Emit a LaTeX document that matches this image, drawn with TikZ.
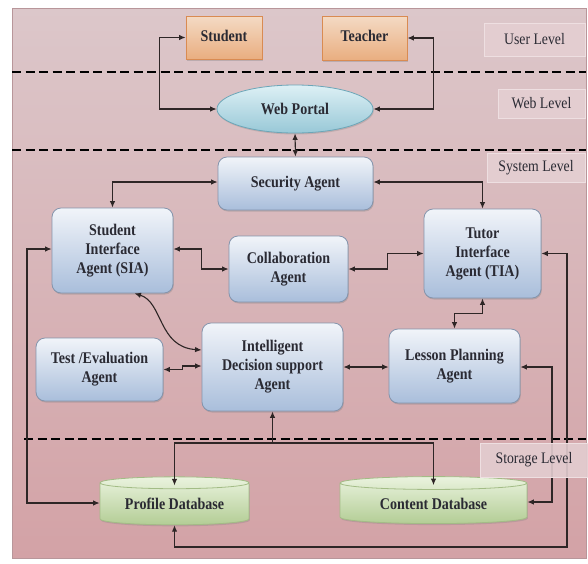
\documentclass[tikz,border=0pt]{standalone}
\usepackage{fontspec}
\setmainfont{Liberation Serif}[FakeStretch=0.86]
\usetikzlibrary{arrows.meta,shapes.geometric,shadows,calc}
\definecolor{paneltop}{HTML}{DCC7CA}
\definecolor{panelbot}{HTML}{D3A2A6}
\definecolor{panelborder}{HTML}{B8969A}
\definecolor{agenttop}{HTML}{F1F4F9}
\definecolor{agentbot}{HTML}{A9BEDB}
\definecolor{agentborder}{HTML}{8494AC}
\definecolor{usertop}{HTML}{F4DAC4}
\definecolor{userbot}{HTML}{E9AE80}
\definecolor{userborder}{HTML}{D98B52}
\definecolor{portaltop}{HTML}{DDF0F5}
\definecolor{portalbot}{HTML}{98C8D7}
\definecolor{portalborder}{HTML}{6CA6B8}
\definecolor{dbtop}{HTML}{EAF3DE}
\definecolor{dbbot}{HTML}{B3CD95}
\definecolor{dbborder}{HTML}{A3BC86}
\definecolor{lvlfill}{HTML}{E3CDD0}
\definecolor{lvlborder}{HTML}{EEDFE1}
\definecolor{arcol}{HTML}{2E2626}
\definecolor{txtcol}{HTML}{2A2A33}
\newcommand{\nodefont}{\bfseries\fontsize{16.3}{19}\selectfont\color{txtcol}}
\newcommand{\lvlfont}{\fontsize{16}{18}\selectfont\color{txtcol}}
\begin{document}
\begin{tikzpicture}[x=1pt,y=-1pt,
  >={Latex[length=6.5pt,width=5.5pt]},
  agent/.style={draw=agentborder, line width=0.8pt, rounded corners=9pt,
    top color=agenttop, bottom color=agentbot, align=center, font=\nodefont,
    inner sep=2pt, drop shadow={shadow xshift=0.8pt, shadow yshift=-1.5pt, opacity=0.35}},
  user/.style={draw=userborder, line width=0.8pt, top color=usertop, bottom color=userbot,
    align=center, font=\nodefont, inner sep=2pt,
    drop shadow={shadow xshift=0.8pt, shadow yshift=-1.5pt, opacity=0.35}},
  portal/.style={ellipse, draw=portalborder, line width=0.8pt, top color=portaltop,
    bottom color=portalbot, font=\nodefont, inner sep=0pt,
    drop shadow={shadow xshift=0.8pt, shadow yshift=-1.5pt, opacity=0.3}},
  db/.style={cylinder, shape border rotate=90, aspect=0.12, draw=dbborder, line width=0.8pt,
    top color=dbtop, bottom color=dbbot, font=\nodefont, inner sep=0pt,
    drop shadow={shadow xshift=0.8pt, shadow yshift=-1.5pt, opacity=0.3}},
  lvl/.style={fill=lvlfill, draw=lvlborder, line width=0.8pt, font=\lvlfont, inner sep=0pt},
  ar/.style={draw=arcol, line width=1.1pt, <->},
  sep/.style={draw=black, line width=1.8pt, dash pattern=on 9pt off 4.5pt}
]
\useasboundingbox (0,0) rectangle (588,563);
% panel
\fill[white] (0,0) rectangle (588,563);
\shade[top color=paneltop, bottom color=panelbot, draw=panelborder, line width=0.6pt]
  (12,8) rectangle (586,558);
% level separators
\draw[sep] (12,72) -- (586,72);
\draw[sep] (12,150) -- (586,150);
\draw[sep] (24,439) -- (586,439);

% level labels (top)
\node[lvl, minimum width=101pt, minimum height=33pt] (userlvl) at (534.5,39.5) {User Level};
\node[lvl, minimum width=87pt, minimum height=29pt] (weblvl) at (541.5,103.5) {Web Level};
\node[lvl, minimum width=98pt, minimum height=29pt] (syslvl) at (536,167.5) {System Level};

% nodes
\node[user, minimum width=76pt, minimum height=43pt] (student) at (224,37.5) {\raisebox{4pt}{Student}};
\node[user, minimum width=85pt, minimum height=44pt] (teacher) at (364.5,38) {\raisebox{4pt}{Teacher}};
\node[portal, minimum width=156pt, minimum height=48pt] (portal) at (295,109) {Web Portal};
\node[agent, minimum width=155pt, minimum height=53pt] (security) at (295.5,183.5) {Security Agent};
\node[agent, minimum width=121pt, minimum height=85pt] (sia) at (112.5,250.5) {Student\\Interface\\Agent (SIA)};
\node[agent, minimum width=117pt, minimum height=89pt] (tia) at (482.5,253.5) {Tutor\\Interface\\Agent (TIA)};
\node[agent, minimum width=119pt, minimum height=66pt] (collab) at (288.5,269) {Collaboration\\Agent};
\node[agent, minimum width=141pt, minimum height=88pt] (idsa) at (272.5,367) {Intelligent\\Decision support\\Agent};
\node[agent, minimum width=127pt, minimum height=63pt] (test) at (99.5,369.5) {Test /Evaluation\\Agent};
\node[agent, minimum width=131pt, minimum height=74pt] (lpa) at (454.5,366) {Lesson Planning\\Agent};
\node[db, minimum width=149pt, minimum height=48pt] (profile) at (174.5,504) {Profile Database};
\node[db, minimum width=187pt, minimum height=47pt] (content) at (433.5,503.5) {Content Database};

% connectors
\draw[ar] (student.west) -- ++(-26,0) |- (portal.west);
\draw[ar] (teacher.east) -- ++(26,0) |- (portal.east);
\draw[ar] (portal.south) -- (security.north);
\draw[ar] ([yshift=1.5pt]security.west) -| (sia.north);
\draw[ar] ([yshift=1.5pt]security.east) -| (tia.north);
\draw[ar] ([yshift=1.5pt]sia.east) -- ++(28,0) |- (collab.west);
\draw[ar] (collab.east) -- ++(39,0) |- (tia.west);
\draw[ar] ([xshift=22pt]sia.south) .. controls (163,302) and (158,347) .. ([yshift=17pt]idsa.west);
\draw[ar] (test.east) -- ++(19,0) |- ([yshift=1pt]idsa.west);
\draw[ar] (idsa.east) -- (idsa.east -| lpa.west);
\draw[ar] (tia.south) -- ++(0,15) -| (lpa.north);
\coordinate (tiaout) at (567,547);
\draw[ar] (tia.east) -| (tiaout) -| (profile.south);
\coordinate (lpaout) at (552,400);
\draw[ar] ([yshift=-1pt]lpa.east) -| (lpaout) |- ([yshift=1.5pt]content.east);
\coordinate (siaout) at (27,400);
\draw[ar] ([yshift=1.5pt]sia.west) -| (siaout) |- ([yshift=1pt]profile.west);
\coordinate (junction) at (272.5,443);
\draw[draw=arcol, line width=1.1pt, ->] (junction) -- (idsa.south);
\draw[ar] ([yshift=-9pt]profile.north) -- (profile.north |- junction) -- (content.north |- junction) -- ([yshift=-9pt]content.north);

% storage label over lines
\node[lvl, fill opacity=0.9, text opacity=1, minimum width=108pt, minimum height=34pt] (storelvl) at (534,460) {Storage Level};
\end{tikzpicture}
\end{document}
